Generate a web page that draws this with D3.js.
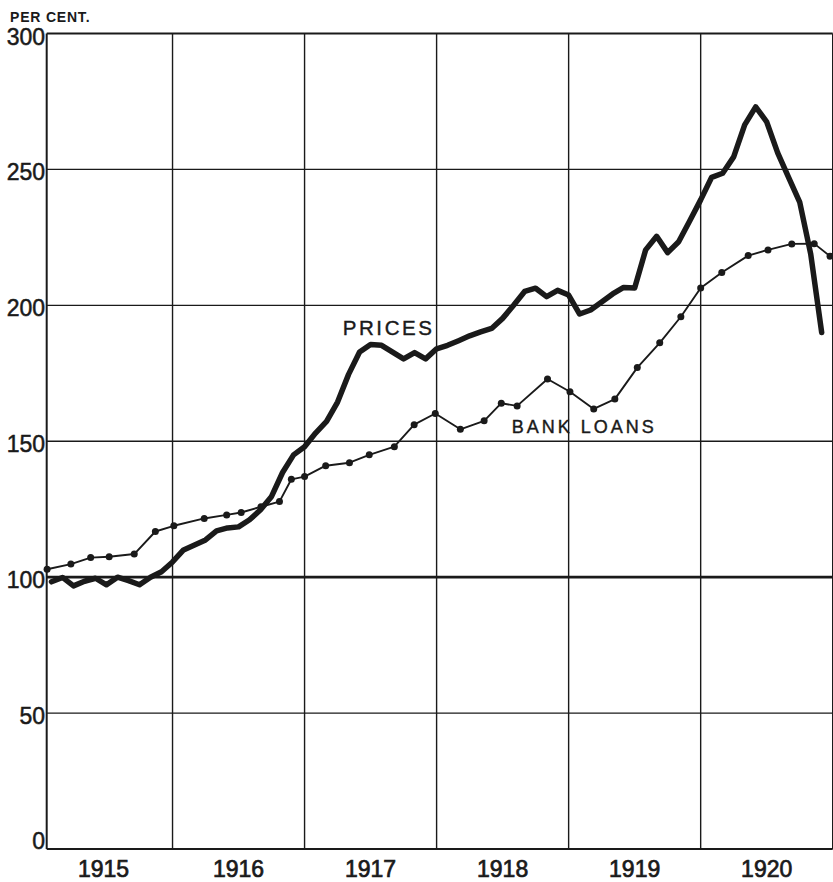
<!DOCTYPE html>
<html>
<head>
<meta charset="utf-8">
<script src="https://cdn.jsdelivr.net/npm/d3@7/dist/d3.min.js"></script>
<style>
  html, body { margin: 0; padding: 0; background: #fff; }
  svg { display: block; }
</style>
</head>
<body>
<svg id="chart" width="833" height="882"></svg>
<script>
// ---------- DATA ----------
const years = [1915, 1916, 1917, 1918, 1919, 1920];
const yTicks = [0, 50, 100, 150, 200, 250, 300];

// Wholesale prices, monthly Jan 1915 - Nov 1920 (per cent)
const priceValues = [
  98.3, 99.9, 96.8, 98.5, 99.6, 97.2, 100.0, 98.7, 97.2, 100.0, 102.0, 105.6,
  110.0, 111.8, 113.7, 117.0, 118.1, 118.5, 121.1, 124.8, 129.7, 138.5, 145.0, 148.0,
  153.0, 157.3, 164.4, 174.6, 182.8, 185.6, 185.3, 182.8, 180.3, 182.6, 180.3, 184.0,
  185.3, 187.0, 188.8, 190.2, 191.5, 195.2, 200.0, 205.1, 206.3, 203.2, 205.5, 203.8,
  196.8, 198.3, 201.2, 204.2, 206.6, 206.4, 220.4, 225.4, 219.4, 223.4, 231.0, 238.8,
  247.1, 248.6, 254.6, 266.4, 273.0, 267.5, 256.1, 247.0, 238.0, 218.9, 190.0
];

// Bank loans, at call dates (decimal year) and values (per cent)
const loanDates = [
  1915.05, 1915.23, 1915.38, 1915.52, 1915.71, 1915.87,
  1916.01, 1916.24, 1916.41, 1916.52, 1916.67, 1916.81, 1916.90,
  1917.00, 1917.16, 1917.34, 1917.49, 1917.68, 1917.83, 1917.99,
  1918.18, 1918.36, 1918.49, 1918.61, 1918.84,
  1919.01, 1919.19, 1919.35, 1919.52, 1919.69, 1919.85,
  1920.00, 1920.16, 1920.36, 1920.51, 1920.69, 1920.86, 1920.98
];
const loanValues = [
  102.9, 104.8, 107.2, 107.5, 108.5, 116.8,
  118.9, 121.6, 122.9, 123.8, 125.9, 127.8, 136.0,
  137.0, 141.0, 142.1, 145.0, 148.0, 156.1, 160.2,
  154.4, 157.5, 164.0, 163.0, 172.9,
  168.2, 161.9, 165.5, 177.1, 186.2, 195.8,
  206.4, 212.1, 218.3, 220.4, 222.6, 222.7, 218.1
];

// ---------- LAYOUT ----------
const svg = d3.select("#chart");
const frameLeft = 46.7;
const x = d3.scaleLinear().domain([1915, 1921]).range([40.5, 832.7]);
const y = d3.scaleLinear().domain([0, 300]).range([849, 33.5]);
const ink = "#1a1a1a";
const font = "Liberation Sans, Arial, sans-serif";

const prices = priceValues.map((v, i) => ({ t: 1915 + (i + 1) / 12, v }));
const loans = loanDates.map((t, i) => ({ t, v: loanValues[i] }));

// grid: horizontal lines
svg.append("g").selectAll("line").data(yTicks).join("line")
  .attr("x1", frameLeft).attr("x2", x(1921))
  .attr("y1", d => y(d)).attr("y2", d => y(d))
  .attr("stroke", ink)
  .attr("stroke-width", d => d === 100 ? 2.6 : (d === 0 || d === 300 ? 2 : 1.4));

// grid: vertical lines
svg.append("g").selectAll("line").data([1916, 1917, 1918, 1919, 1920, 1921]).join("line")
  .attr("x1", d => x(d)).attr("x2", d => x(d))
  .attr("y1", y(300)).attr("y2", y(0))
  .attr("stroke", ink).attr("stroke-width", 1.4);

svg.append("line")
  .attr("x1", frameLeft).attr("x2", frameLeft)
  .attr("y1", y(300)).attr("y2", y(0))
  .attr("stroke", ink).attr("stroke-width", 2);

// y tick labels
svg.append("g").selectAll("text").data(yTicks).join("text")
  .attr("x", 45)
  .attr("y", d => d === 0 ? y(d) : y(d) + 11)
  .attr("text-anchor", "end")
  .attr("font-family", font)
  .attr("font-size", 23)
  .attr("fill", ink).attr("stroke", ink).attr("stroke-width", 0.5)
  .text(d => d);

// x labels
svg.append("g").selectAll("text").data(years).join("text")
  .attr("x", d => x(d + 0.5) - (d === 1915 ? 3 : 0))
  .attr("y", 877)
  .attr("text-anchor", "middle")
  .attr("font-family", font)
  .attr("font-size", 23)
  .attr("fill", ink).attr("stroke", ink).attr("stroke-width", 0.7)
  .text(d => d);

// unit label
svg.append("text")
  .attr("x", 10).attr("y", 22)
  .attr("font-family", font)
  .attr("font-size", 14).attr("font-weight", "bold")
  .attr("letter-spacing", 0.8)
  .attr("fill", ink)
  .text("PER CENT.");

// bank loans line
const line = d3.line().x(d => x(d.t)).y(d => y(d.v));
svg.append("path").datum(loans)
  .attr("d", line)
  .attr("fill", "none").attr("stroke", ink)
  .attr("stroke-width", 1.9).attr("stroke-linejoin", "round");
svg.append("g").selectAll("circle").data(loans).join("circle")
  .attr("cx", d => x(d.t)).attr("cy", d => y(d.v))
  .attr("r", 3.5).attr("fill", ink);

// prices line
svg.append("path").datum(prices)
  .attr("d", line)
  .attr("fill", "none").attr("stroke", ink)
  .attr("stroke-width", 5.5).attr("stroke-linejoin", "round")
  .attr("stroke-linecap", "round");

// series labels
svg.append("text")
  .attr("x", 342.7).attr("y", 335)
  .attr("font-family", font)
  .attr("font-size", 20.5).attr("letter-spacing", 2.6)
  .attr("fill", ink).attr("stroke", ink).attr("stroke-width", 0.4)
  .text("PRICES");

svg.append("text")
  .attr("x", 511.7).attr("y", 433.3)
  .attr("font-family", font)
  .attr("font-size", 18).attr("letter-spacing", 3)
  .attr("fill", ink).attr("stroke", ink).attr("stroke-width", 0.4)
  .text("BANK LOANS");
</script>
</body>
</html>
